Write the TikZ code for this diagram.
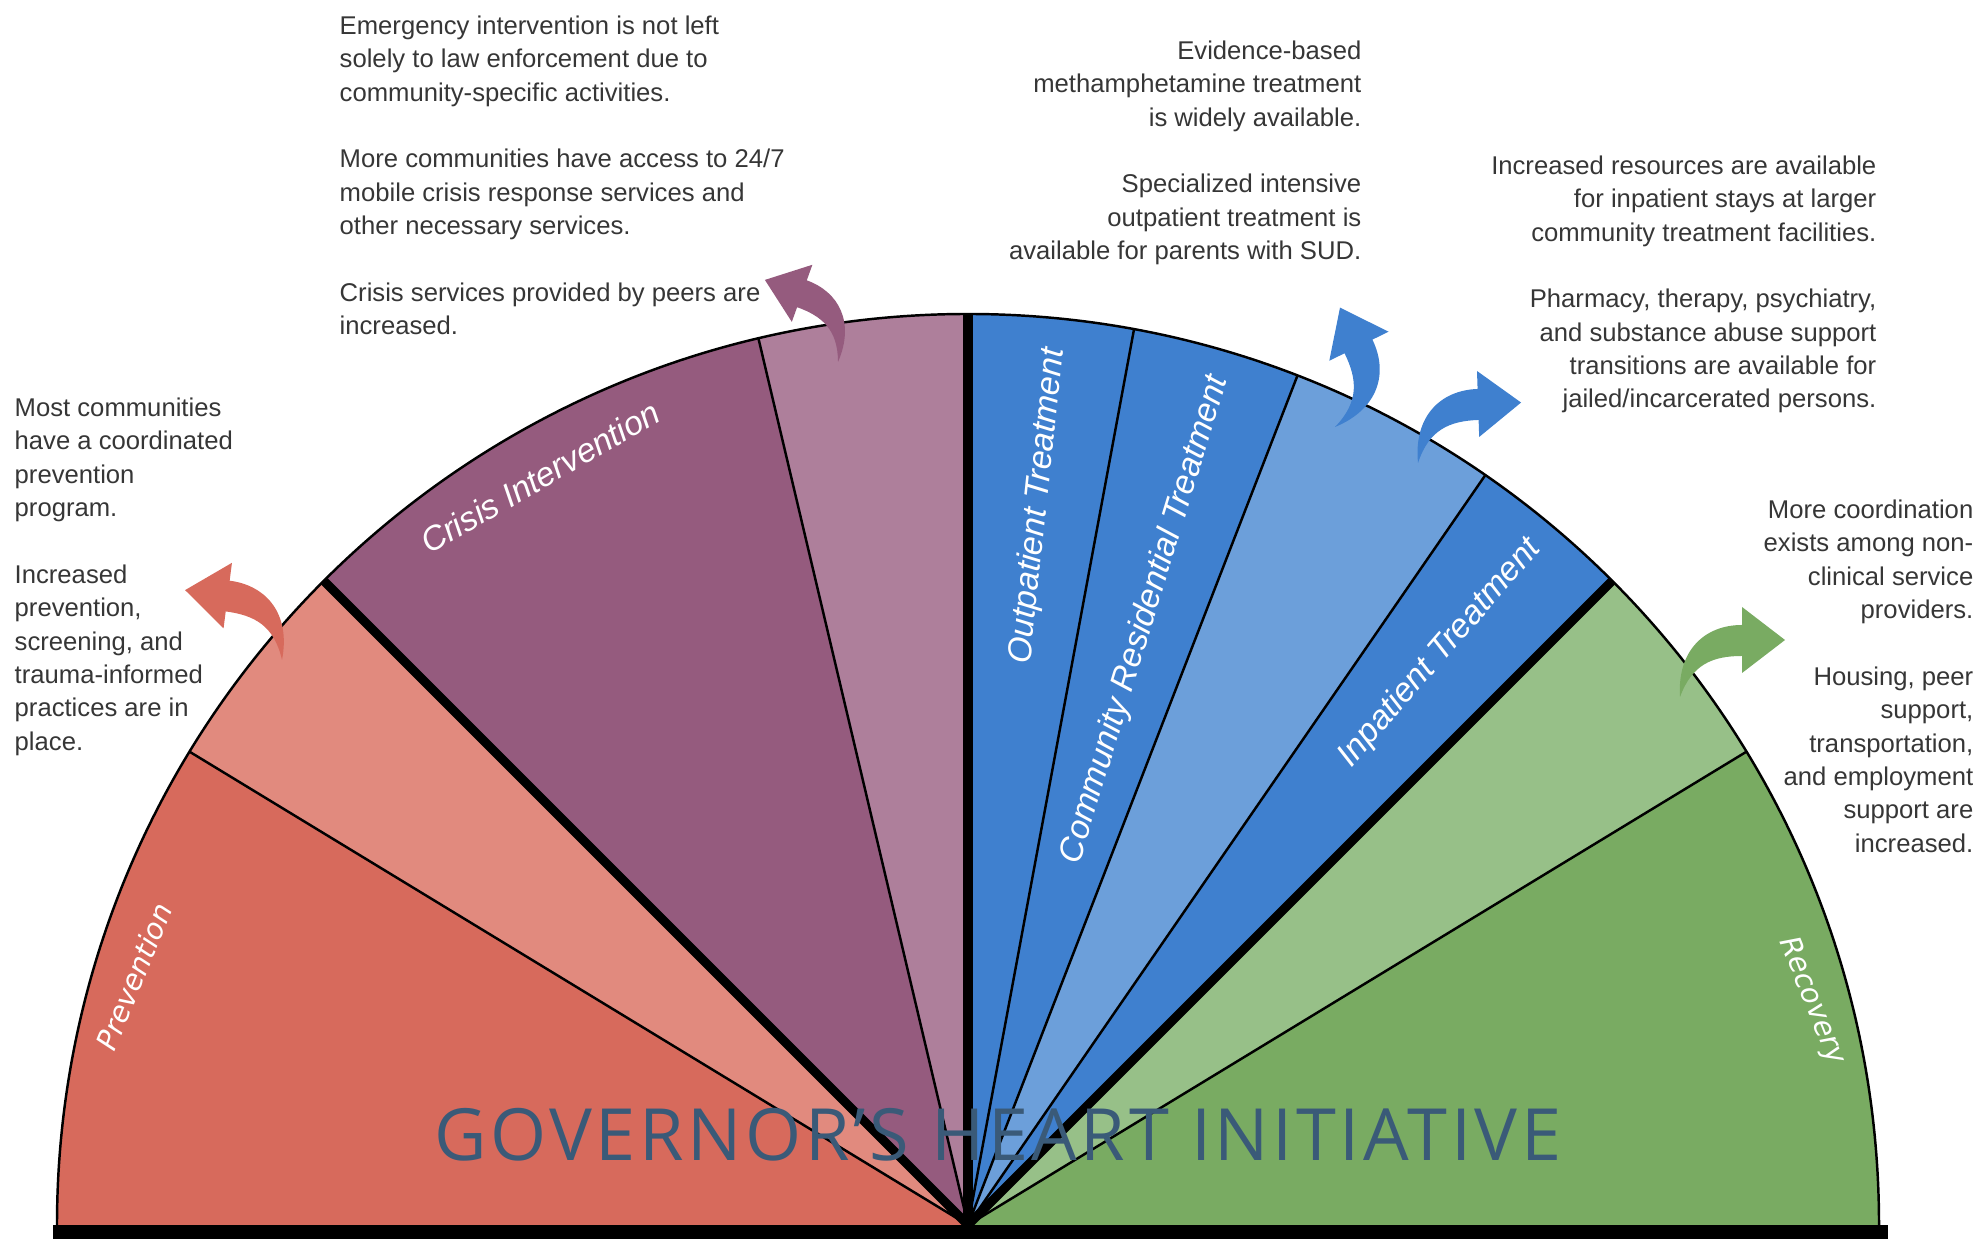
\documentclass[tikz,border=0pt]{standalone}
\usepackage{fontspec}
\setmainfont{Liberation Sans}
\newfontfamily\titlefont[LetterSpace=5]{Open Sans}
\newfontfamily\labelfont{DejaVu Sans}
\usetikzlibrary{positioning,calc}

\definecolor{prevred}{HTML}{D76A5C}
\definecolor{prevlight}{HTML}{E18A7E}
\definecolor{crispurple}{HTML}{955B7E}
\definecolor{crislight}{HTML}{AE7F9B}
\definecolor{treatblue}{HTML}{3F80CF}
\definecolor{treatlight}{HTML}{6C9FDA}
\definecolor{recgreen}{HTML}{79AB62}
\definecolor{reclight}{HTML}{97C088}
\definecolor{titleblue}{HTML}{3A5A78}
\definecolor{bodytext}{HTML}{363636}

\begin{document}
\begin{tikzpicture}[
    note/.style={inner sep=0pt, text=bodytext, font=\fontsize{7.3}{9.5}\selectfont},
    seglabel/.style={inner sep=0pt, text=white, font=\fontsize{9.6}{11}\selectfont\itshape},
    sidelabel/.style={inner sep=0pt, text=white, font=\labelfont\fontsize{8.2}{10}\selectfont\itshape},
    spoke/.style={line width=0.7pt},
    bigspoke/.style={line width=2.6pt}
]
    \useasboundingbox (0,0) rectangle (19.84,12.39);
    \coordinate (hub) at (9.68,0.14);
    \def\rad{9.11}

    % Wedges
    \foreach \a/\b/\col in {0/31.3/recgreen, 31.3/45/reclight, 45/55.4/treatblue,
        55.4/68.8/treatlight, 68.8/79.5/treatblue, 79.5/90/treatblue,
        90/103.3/crislight, 103.3/135/crispurple, 135/148.7/prevlight, 148.7/180/prevred} {
        \fill[\col] (hub) -- ++(\a:\rad) arc[start angle=\a, end angle=\b, radius=\rad] -- cycle;
    }

    % Spokes and rim
    \foreach \a in {31.3,55.4,68.8,79.5,103.3,148.7}
        \draw[spoke] (hub) -- ++(\a:\rad);
    \foreach \a in {45,90,135}
        \draw[bigspoke] (hub) -- ++(\a:\rad);
    \draw[spoke] (hub) ++(0:\rad) arc[start angle=0, end angle=180, radius=\rad];
    \fill (0.53,0) rectangle (18.88,0.14);

    % Curved arrows
    \foreach \x/\y/\rot/\flip/\sc/\col in {2.82/5.79/-7.3/-1/1/prevred,
        8.38/8.77/-19.8/-1/0.92/crispurple, 13.35/8.12/-63.9/-1/1/treatblue,
        14.18/7.76/1.9/1/1/treatblue, 16.80/5.42/0/1/1/recgreen} {
        \fill[\col, shift={(\x,\y)}, rotate=\rot, xscale=\flip, scale=\sc]
            (0,0) .. controls (-0.03,0.47) and (0.25,0.72) .. (0.62,0.72)
            -- (0.62,0.90) -- (1.05,0.57) -- (0.62,0.24) -- (0.62,0.41)
            .. controls (0.33,0.41) and (0.12,0.33) .. (0,0) -- cycle;
    }

    % Segment labels
    \node[sidelabel, rotate=68] (prevention) at (1.34,2.62) {Prevention};
    \node[seglabel, rotate=30] (crisis) at (5.40,7.62) {Crisis Intervention};
    \node[seglabel, rotate=84] (outpatient) at (10.38,7.33) {Outpatient Treatment};
    \node[seglabel, rotate=73] (residential) at (11.45,6.19) {Community Residential Treatment};
    \node[seglabel, rotate=49] (inpatient) at (14.40,5.86) {Inpatient Treatment};
    \node[sidelabel, rotate=-68] (recovery) at (18.12,2.38) {Recovery};

    % Notes
    \node[note, anchor=north west, align=left] (prevnote) at (0.14,8.42)
        {Most communities\\have a coordinated\\prevention\\program.\\[9.5pt]
         Increased\\prevention,\\screening, and\\trauma-informed\\practices are in\\place.};
    \node[note, anchor=north west, align=left] (crisisnote) at (3.39,12.24)
        {Emergency intervention is not left\\solely to law enforcement due to\\community-specific activities.\\[9.5pt]
         More communities have access to 24/7\\mobile crisis response services and\\other necessary services.\\[9.5pt]
         Crisis services provided by peers are\\increased.};
    \node[note, anchor=north east, align=right] (outnote) at (13.62,11.99)
        {Evidence-based\\methamphetamine treatment\\is widely available.\\[9.5pt]
         Specialized intensive\\outpatient treatment is\\available for parents with SUD.};
    \node[note, anchor=north east, align=right] (innote) at (18.77,10.84)
        {Increased resources are available\\for inpatient stays at larger\\community treatment facilities.\\[9.5pt]
         Pharmacy, therapy, psychiatry,\\and substance abuse support\\transitions are available for\\jailed/incarcerated persons.};
    \node[note, anchor=north east, align=right] (recnote) at (19.74,7.40)
        {More coordination\\exists among non-\\clinical service\\providers.\\[9.5pt]
         Housing, peer\\support,\\transportation,\\and employment\\support are\\increased.};

    % Title
    \node[inner sep=0pt, anchor=base, text=titleblue, font=\titlefont\fontsize{20.5}{24}\selectfont] (title) at (9.98,0.78)
        {GOVERNOR’S HEART INITIATIVE};
\end{tikzpicture}
\end{document}
